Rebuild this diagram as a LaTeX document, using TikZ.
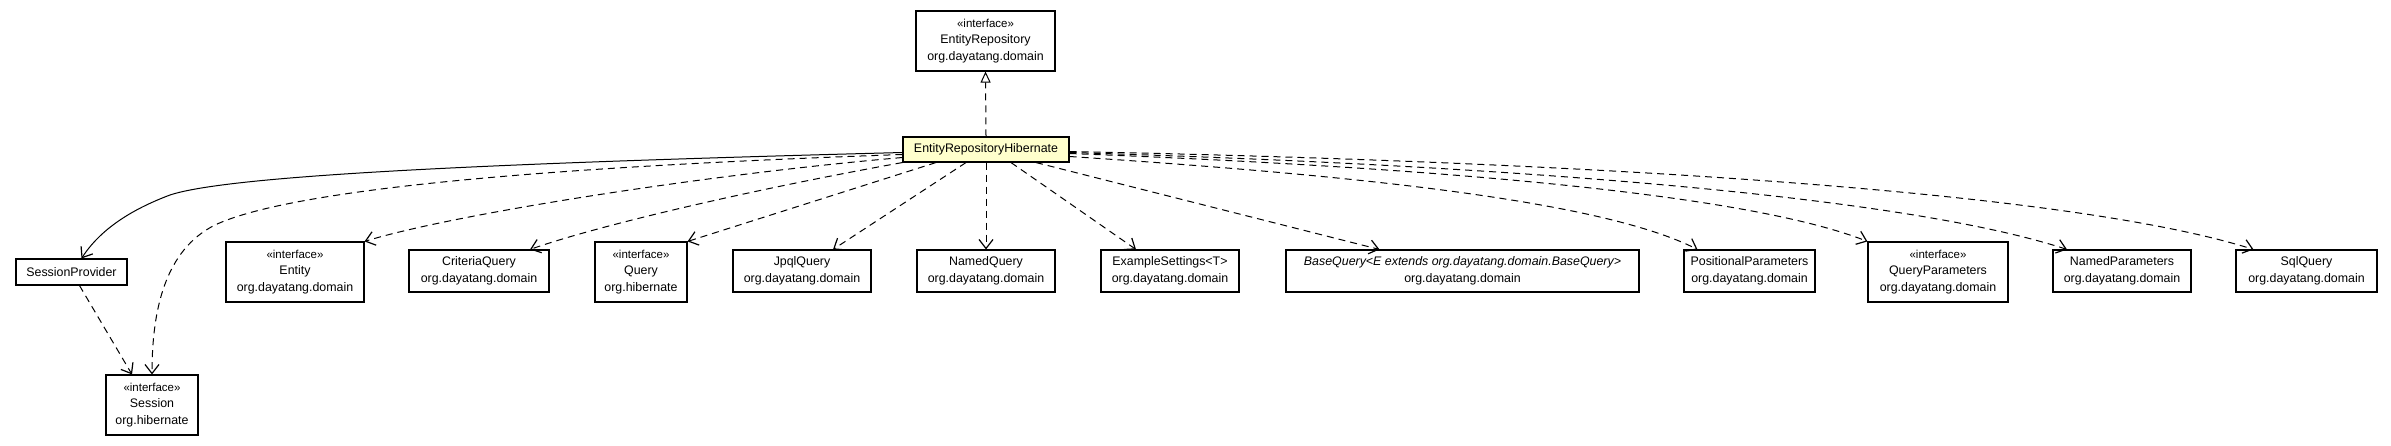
\documentclass[tikz,border=0pt]{standalone}
\usepackage{fontspec}
\setmainfont{Liberation Sans}
\usetikzlibrary{arrows.meta,calc}
\definecolor{hibfill}{HTML}{FFFFCC}
\newcommand\umlfs{\fontsize{12.4}{16.5}\selectfont}
\newcommand\umlst{\fontsize{11.5}{16.5}\selectfont}
\begin{document}
\begin{tikzpicture}[x=1pt,y=-1pt,
  umlbox/.style={draw=black, line width=1.1pt, fill=white, inner sep=0pt, align=center, font=\umlfs},
  deline/.style={line width=1pt, dash pattern=on 7pt off 5pt, -{Straight Barb[length=9pt,width=14pt,line width=1.2pt]}},
  solidline/.style={line width=1pt, -{Straight Barb[length=9pt,width=14pt,line width=1.2pt]}},
  realline/.style={line width=1pt, dash pattern=on 7pt off 5pt, -{Triangle[open,length=11pt,width=10pt,fill=white,line width=1pt]}}
]
\useasboundingbox (0,0) rectangle (2391,445);
\fill[white] (0,0) rectangle (2391,445);

\node[umlbox, minimum width=139pt, minimum height=60pt] (er) at (985.5,41) {{\umlst «interface»}\\EntityRepository\\org.dayatang.domain};
\node[umlbox, fill=hibfill, minimum width=166pt, minimum height=25pt] (hib) at (986,149.5) {EntityRepositoryHibernate};
\node[umlbox, minimum width=111pt, minimum height=26pt] (sp) at (71.5,272) {SessionProvider};
\node[umlbox, minimum width=92pt, minimum height=60pt] (ses) at (152,405) {{\umlst «interface»}\\Session\\org.hibernate};
\node[umlbox, minimum width=138pt, minimum height=60pt] (ent) at (295,272) {{\umlst «interface»}\\Entity\\org.dayatang.domain};
\node[umlbox, minimum width=140pt, minimum height=42pt] (crit) at (479,271) {CriteriaQuery\\org.dayatang.domain};
\node[umlbox, minimum width=92pt, minimum height=60pt] (qry) at (641,272) {{\umlst «interface»}\\Query\\org.hibernate};
\node[umlbox, minimum width=138pt, minimum height=42pt] (jpql) at (802,271) {JpqlQuery\\org.dayatang.domain};
\node[umlbox, minimum width=138pt, minimum height=42pt] (nq) at (986,271) {NamedQuery\\org.dayatang.domain};
\node[umlbox, minimum width=138pt, minimum height=42pt] (ex) at (1170,271) {ExampleSettings<T>\\org.dayatang.domain};
\node[umlbox, minimum width=353pt, minimum height=42pt] (bq) at (1462.5,271) {\textit{BaseQuery<E extends org.dayatang.domain.BaseQuery>}\\org.dayatang.domain};
\node[umlbox, minimum width=131pt, minimum height=42pt] (pp) at (1749.5,271) {PositionalParameters\\org.dayatang.domain};
\node[umlbox, minimum width=140pt, minimum height=60pt] (qp) at (1938,272) {{\umlst «interface»}\\QueryParameters\\org.dayatang.domain};
\node[umlbox, minimum width=138pt, minimum height=42pt] (np) at (2122,271) {NamedParameters\\org.dayatang.domain};
\node[umlbox, minimum width=141pt, minimum height=42pt] (sq) at (2306.5,271) {SqlQuery\\org.dayatang.domain};

% realization
\draw[realline] (hib.north) -- (er.south);
% association
\draw[solidline] ([yshift=-3pt]hib.west) .. controls (500,163) and (230,175) .. (170,195)
   .. controls (130,210) and (100,230) .. ([xshift=10pt]sp.north);
% dependencies
\draw[deline] ([xshift=8pt]sp.south) -- ([xshift=-20pt]ses.north);
\draw[deline] ([yshift=-5pt]hib.west) .. controls (600,165) and (300,185) .. (215,225)
   .. controls (165,250) and (152,310) .. (ses.north);
\draw[deline] ([yshift=-8pt]hib.west) .. controls (700,175) and (450,215) .. (ent.north east);
\draw[deline] (hib.south west) .. controls (750,190) and (600,225) .. ([xshift=51pt]crit.north);
\draw[deline] ([xshift=-50pt]hib.south) -- (qry.north east);
\draw[deline] ([xshift=-20pt]hib.south) -- ([xshift=31pt]jpql.north);
\draw[deline] (hib.south) -- (nq.north);
\draw[deline] ([xshift=25pt]hib.south) -- ([xshift=-34pt]ex.north);
\draw[deline] ([xshift=50pt]hib.south) -- ([xshift=-83pt]bq.north);
\draw[deline] ([yshift=-7pt]hib.east) .. controls (1350,175) and (1600,200) .. ([xshift=-52pt]pp.north);
\draw[deline] ([yshift=-4pt]hib.east) .. controls (1450,168) and (1750,195) .. (qp.north west);
\draw[deline] ([yshift=-3pt]hib.east) .. controls (1500,165) and (1900,195) .. ([xshift=-55pt]np.north);
\draw[deline] ([yshift=-2pt]hib.east) .. controls (1500,160) and (2050,185) .. ([xshift=-53pt]sq.north);
\end{tikzpicture}
\end{document}
